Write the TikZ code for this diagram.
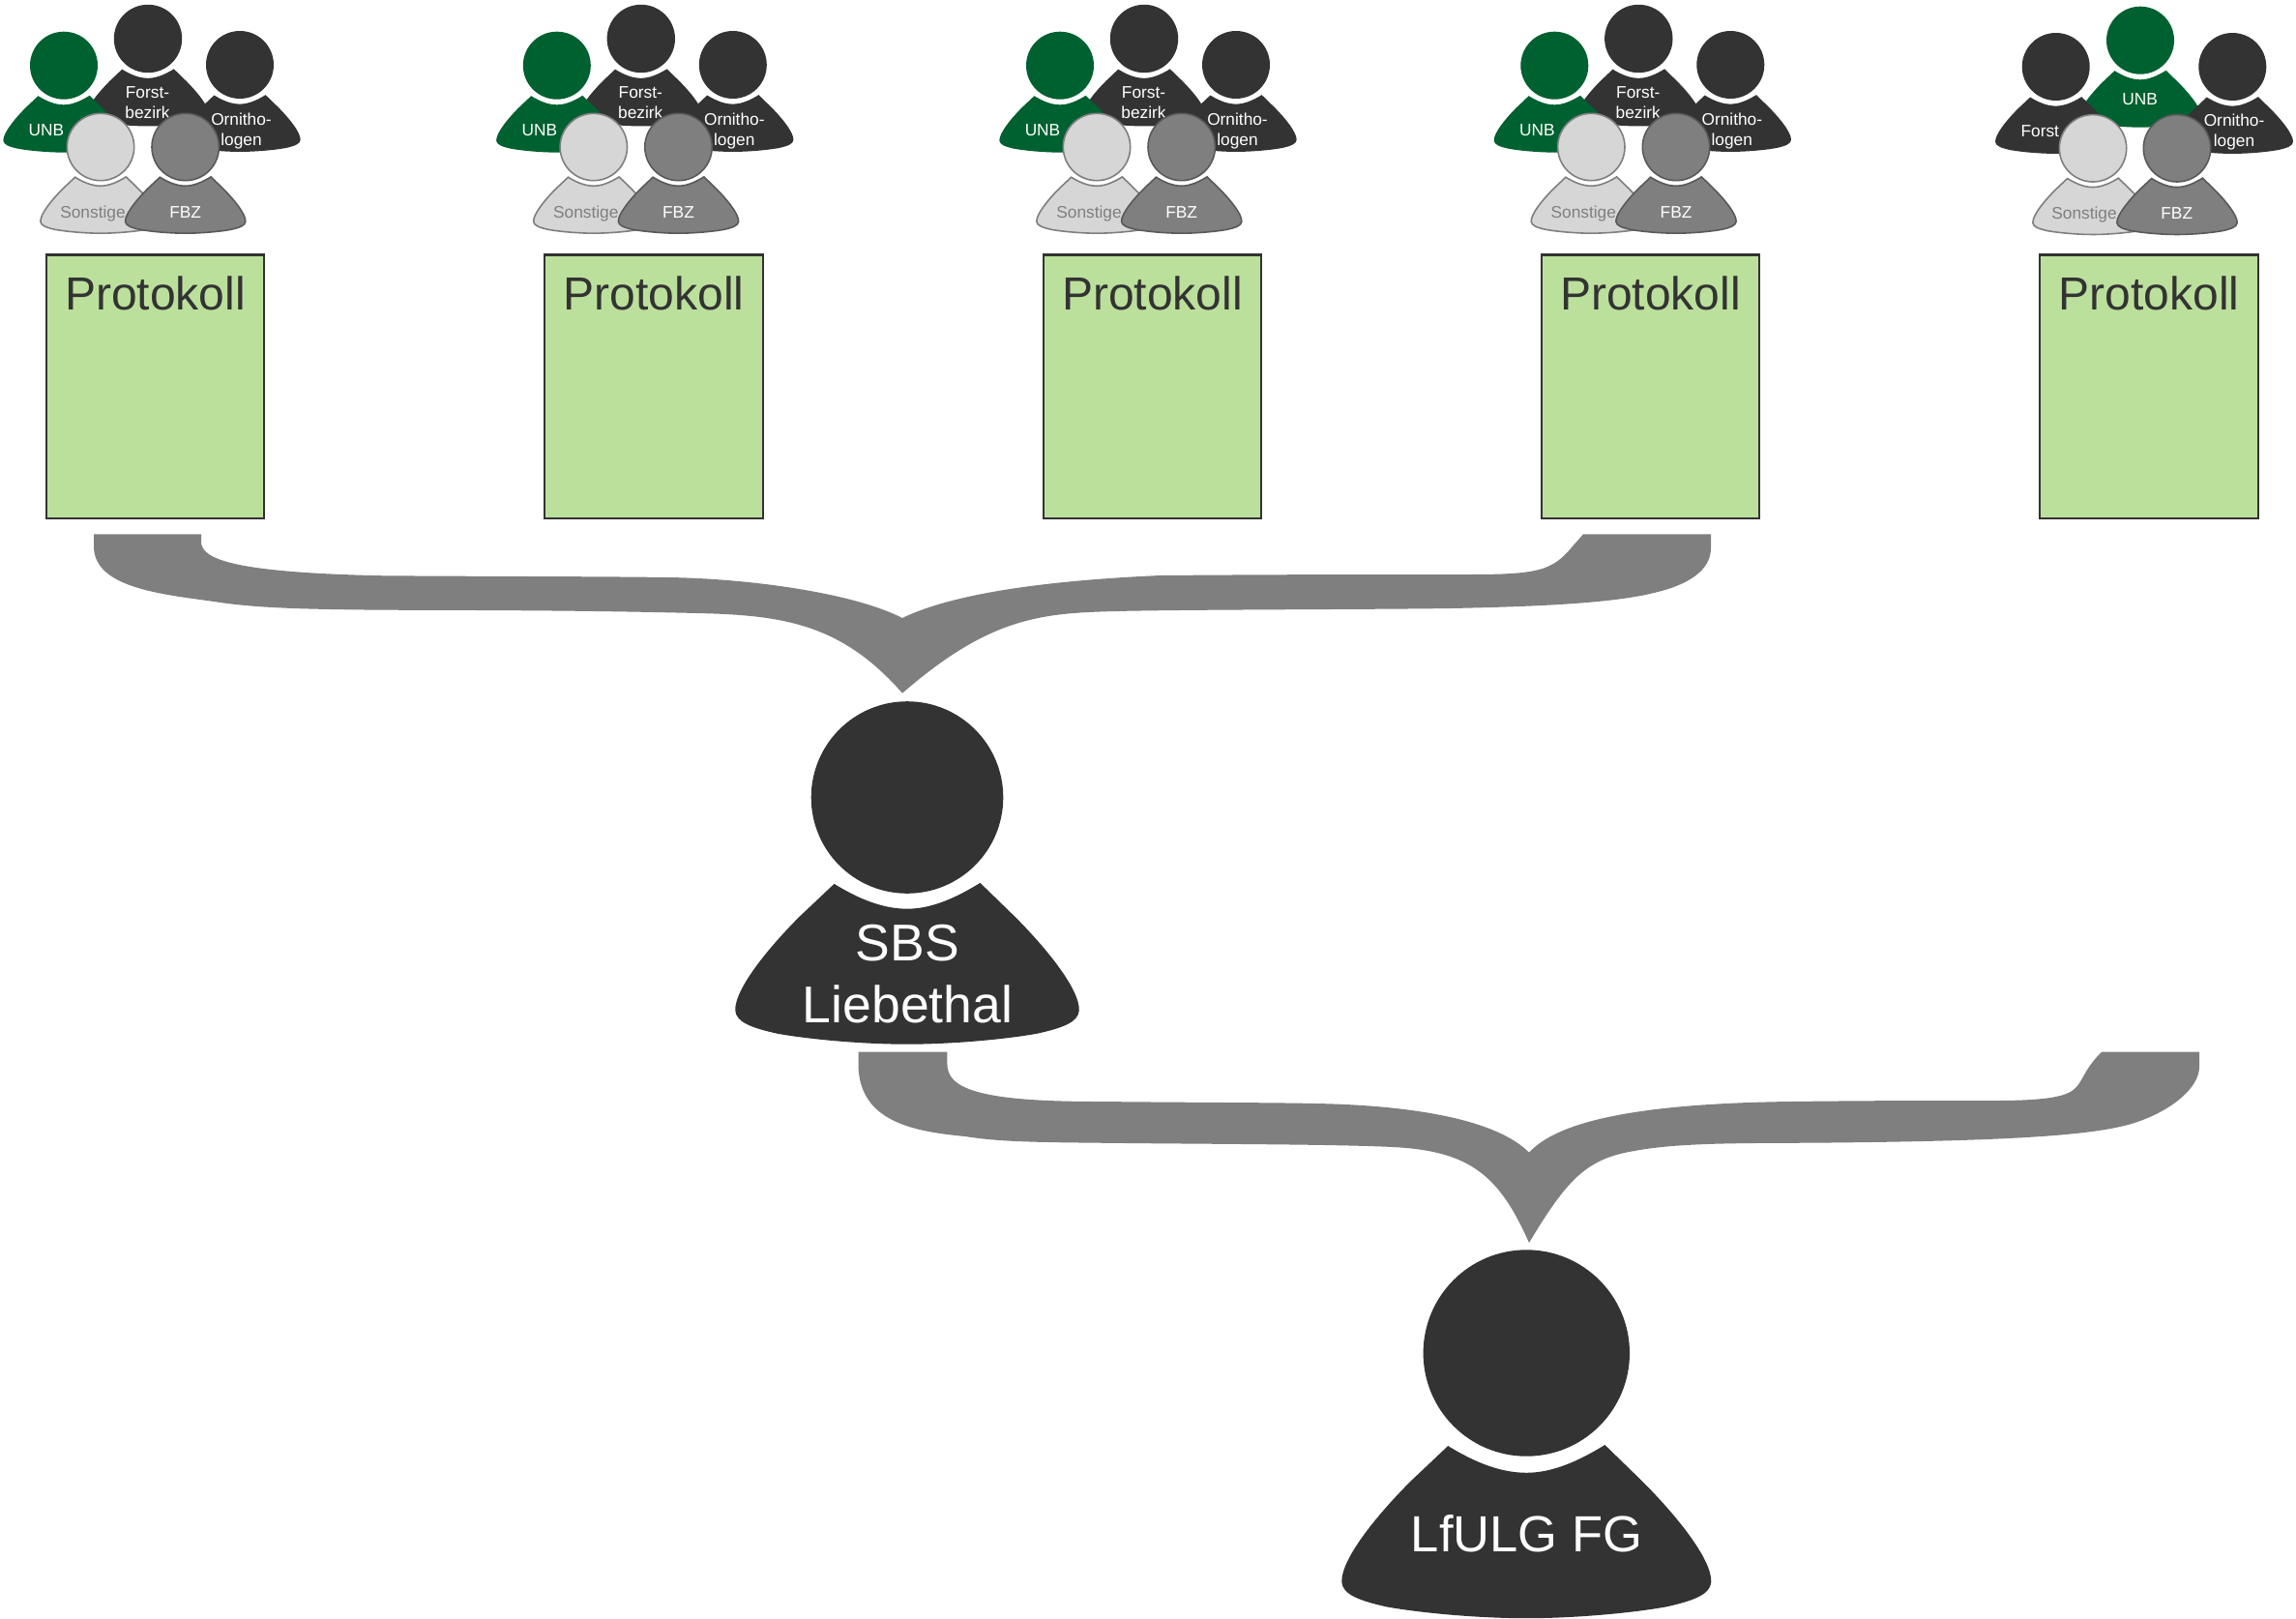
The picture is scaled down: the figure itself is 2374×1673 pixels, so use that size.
\documentclass[tikz,border=0pt]{standalone}
\usepackage{fontspec}
\setmainfont{Liberation Sans}
\definecolor{ink}{HTML}{333333}
\definecolor{unbgreen}{HTML}{006130}
\definecolor{midgray}{HTML}{7F7F7F}
\definecolor{lightgray2}{HTML}{D6D6D6}
\definecolor{outlinegray}{HTML}{595959}
\definecolor{paper}{HTML}{BBE09B}
\tikzset{
  dark person/.style={fill=ink},
  green person/.style={fill=unbgreen},
  light person/.style={fill=lightgray2,draw=midgray,line width=1.6pt},
  mid person/.style={fill=midgray,draw=outlinegray,line width=1.6pt},
  brace shape/.style={fill=midgray},
  small label/.style={text=white,font=\fontsize{17.3}{21}\selectfont,align=center,inner sep=0pt},
  dim label/.style={small label,text=midgray},
  big label/.style={text=white,font=\fontsize{53.5}{64}\selectfont,align=center,inner sep=0pt},
  sheet/.style={draw=ink,line width=2.4pt,fill=paper,minimum width=225.5pt,minimum height=272.4pt,inner sep=0pt,outer sep=0pt},
  sheet title/.style={text=ink,font=\fontsize{48}{56}\selectfont,inner sep=0pt}
}
% #1 cx, #2 cy, #3 r, #4 style
\newcommand{\person}[4]{%
  \begin{scope}[shift={(#1,#2)},x=#3pt,y=-#3pt]
    \path[#4] (0,0) circle (1);
    \path[#4] (-.76,.9) .. controls (-.5,1.06) and (-.25,1.16) .. (0,1.16)
      .. controls (.25,1.16) and (.5,1.05) .. (.76,.89)
      -- (1.12,1.24)
      .. controls (1.45,1.57) and (1.8,2.0) .. (1.79,2.22)
      .. controls (1.78,2.34) and (1.62,2.4) .. (1.35,2.46)
      .. controls (.95,2.53) and (.4,2.57) .. (0,2.57)
      .. controls (-.4,2.57) and (-.95,2.53) .. (-1.35,2.46)
      .. controls (-1.62,2.4) and (-1.78,2.34) .. (-1.79,2.22)
      .. controls (-1.8,2.0) and (-1.45,1.57) .. (-1.12,1.24)
      -- cycle;
  \end{scope}%
}
% standard group of five; #1 x offset, #2 name prefix
\newcommand{\stdgroup}[2]{%
  \begin{scope}[shift={(#1,0)}]
    \person{153}{40}{35.2}{dark person}
    \person{66}{67.7}{35}{green person}
    \person{248}{67}{35}{dark person}
    \node[small label] (#2forst) at (152.5,106.5) {Forst-\\bezirk};
    \node[small label] (#2unb) at (48,134.5) {UNB};
    \node[small label] (#2orn) at (249.5,136) {Ornitho-\\logen};
    \person{104}{152}{34.7}{light person}
    \node[dim label] (#2son) at (96,221) {Sonstige};
    \person{191.7}{152}{34.7}{mid person}
    \node[small label] (#2fbz) at (191.7,219.5) {FBZ};
  \end{scope}%
}
\begin{document}
\begin{tikzpicture}[x=1pt,y=-1pt]
\useasboundingbox (0,0) rectangle (2374,1673);
\stdgroup{0}{a}
\stdgroup{509.8}{b}
\stdgroup{1030}{c}
\stdgroup{1541.3}{d}
% fifth group
\person{2213}{41.7}{35}{green person}
\person{2125.7}{69}{35}{dark person}
\person{2308.3}{69}{35}{dark person}
\node[small label] (eforst) at (2109.3,136) {Forst};
\node[small label] (eunb) at (2212.7,102.7) {UNB};
\node[small label] (eorn) at (2310,136.5) {Ornitho-\\logen};
\person{2164}{153.3}{34.7}{light person}
\node[dim label] (eson) at (2155,222) {Sonstige};
\person{2251}{153.3}{34.7}{mid person}
\node[small label] (efbz) at (2250.7,221) {FBZ};
% protocol sheets
\foreach \nm/\cx in {p1/160.5,p2/676,p3/1191.5,p4/1706.5,p5/2222}{
  \node[sheet] (\nm) at (\cx,399.5) {};
  \node[sheet title,anchor=base] (\nm t) at (\cx,320) {Protokoll};
}
% first brace
\path[brace shape] (97,552.3) -- (208,552.3) -- (208,560)
  .. controls (208,578) and (240,592) .. (397,595.3)
  .. controls (500,596) and (621,596) .. (690,597)
  .. controls (770,598) and (880,612) .. (933,639)
  .. controls (968,622) and (1040,602) .. (1200,595)
  .. controls (1320,594) and (1430,594) .. (1519,594)
  .. controls (1590,594) and (1605,590) .. (1625,566)
  -- (1637,552.3) -- (1769,552.3) -- (1769,566.7)
  .. controls (1769,590) and (1745,605) .. (1710,613)
  .. controls (1670,623) and (1600,627) .. (1500,629)
  .. controls (1400,630.5) and (1175,630) .. (1126,633)
  .. controls (1060,636) and (1010,650) .. (933,716.7)
  .. controls (870,645) and (810,636) .. (721,634)
  .. controls (600,631) and (500,631) .. (397,630.7)
  .. controls (320,630) and (270,629) .. (228,623)
  .. controls (175,615) and (97,610) .. (97,565)
  -- cycle;
% second brace
\path[brace shape] (887.5,1087.7) -- (979.4,1087.7) -- (979.4,1100)
  .. controls (979.4,1125) and (1010,1139) .. (1135.5,1139)
  .. controls (1230,1140) and (1319,1140) .. (1360,1141)
  .. controls (1470,1143) and (1550,1160) .. (1581,1191.7)
  .. controls (1610,1160) and (1690,1141) .. (1852,1139)
  .. controls (1930,1138) and (2000,1138) .. (2063,1138)
  .. controls (2135,1138) and (2143,1130) .. (2150,1120)
  .. controls (2155,1112) and (2160,1100) .. (2173.2,1087.7)
  -- (2274,1087.7) -- (2274,1103)
  .. controls (2274,1125) and (2245,1148) .. (2210,1160)
  .. controls (2170,1174) and (2080,1180) .. (1870,1181.7)
  .. controls (1790,1182) and (1732,1182) .. (1690,1190)
  .. controls (1640,1198) and (1620,1220) .. (1581,1285)
  .. controls (1550,1215) and (1520,1190) .. (1440,1186)
  .. controls (1380,1183) and (1250,1183) .. (1135.5,1181.7)
  .. controls (1060,1181) and (1030,1180) .. (998,1175)
  .. controls (945,1170) and (887.5,1160) .. (887.5,1100)
  -- cycle;
% large persons
\person{938}{824.5}{99.3}{dark person}
\node[big label] (sbs) at (938.5,1007.5) {SBS\\Liebethal};
\person{1578.3}{1399}{106.7}{dark person}
\node[big label,font=\fontsize{52.5}{64}\selectfont] (lfulg) at (1578.5,1585.5) {LfULG FG};
\end{tikzpicture}
\end{document}
